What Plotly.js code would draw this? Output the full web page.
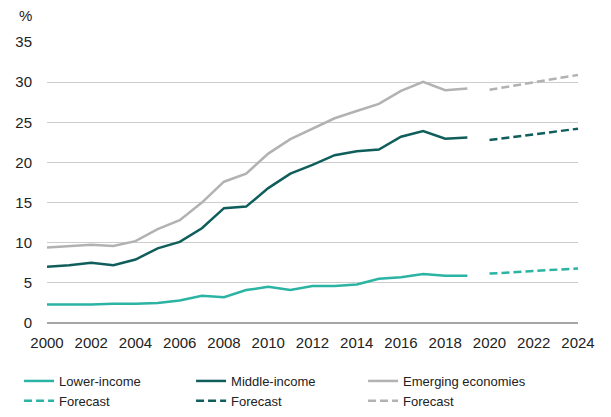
<!DOCTYPE html>
<html>
<head>
<meta charset="utf-8">
<script src="https://cdn.plot.ly/plotly-3.0.1.min.js"></script>
<style>html,body{margin:0;padding:0;background:#fff;}#chart{width:611px;height:417px;}</style>
</head>
<body>
<div id="chart"></div>
<script>
const years = [2000,2001,2002,2003,2004,2005,2006,2007,2008,2009,2010,2011,2012,2013,2014,2015,2016,2017,2018,2019];
const forecastYears = [2020,2021,2022,2023,2024];

const lowerIncome = [2.3,2.3,2.3,2.4,2.4,2.5,2.8,3.4,3.2,4.1,4.5,4.1,4.6,4.6,4.8,5.5,5.7,6.1,5.9,5.9];
const middleIncome = [7.0,7.2,7.5,7.2,7.9,9.3,10.1,11.8,14.3,14.5,16.8,18.6,19.7,20.9,21.4,21.6,23.2,23.9,22.95,23.1];
const emerging = [9.4,9.6,9.75,9.6,10.2,11.7,12.8,15.0,17.6,18.6,21.1,22.9,24.2,25.5,26.4,27.3,28.9,30.05,29.0,29.2];

const lowerForecast = [6.15,6.3,6.45,6.6,6.8];
const middleForecast = [22.8,23.15,23.55,23.9,24.2];
const emergingForecast = [29.05,29.5,30.0,30.45,30.9];

const xTicks = [2000,2002,2004,2006,2008,2010,2012,2014,2016,2018,2020,2022,2024];
const yTicks = [0,5,10,15,20,25,30,35];

const cLow = '#2bb3a3', cMid = '#0f5e5b', cEm = '#b2b2b2';
const lw = 2.5;
const dash = '8px,4px';

const traces = [
  {x: years, y: lowerIncome, name: 'Lower-income', mode: 'lines', line: {color: cLow, width: lw}},
  {x: years, y: middleIncome, name: 'Middle-income', mode: 'lines', line: {color: cMid, width: lw}},
  {x: years, y: emerging, name: 'Emerging economies', mode: 'lines', line: {color: cEm, width: lw}},
  {x: forecastYears, y: lowerForecast, name: 'Forecast', mode: 'lines', line: {color: cLow, width: lw, dash: dash}},
  {x: forecastYears, y: middleForecast, name: 'Forecast', mode: 'lines', line: {color: cMid, width: lw, dash: dash}},
  {x: forecastYears, y: emergingForecast, name: 'Forecast', mode: 'lines', line: {color: cEm, width: lw, dash: dash}}
];

const layout = {
  width: 611, height: 417,
  margin: {l: 47, r: 33, t: 42, b: 94, autoexpand: false},
  paper_bgcolor: '#fff', plot_bgcolor: '#fff',
  font: {family: 'Liberation Sans, Arial, sans-serif', size: 15, color: '#222'},
  showlegend: true,
  legend: {
    orientation: 'h', x: -0.0526, xanchor: 'left', y: -0.153, yanchor: 'top',
    entrywidth: 127, entrywidthmode: 'pixels', traceorder: 'normal',
    font: {size: 13, color: '#222'}, tracegroupgap: 0
  },
  xaxis: {
    range: [2000, 2024], tickvals: xTicks, ticktext: xTicks.map(String),
    showgrid: false, zeroline: false, showline: false, ticks: '',
    ticklabelstandoff: 9, tickfont: {size: 15}
  },
  yaxis: {
    range: [0, 35], tickvals: yTicks, ticktext: yTicks.map(String),
    showgrid: true, gridcolor: '#cccccc', gridwidth: 1,
    zeroline: true, zerolinecolor: '#a6a6a6', zerolinewidth: 1.5,
    showline: false, ticks: '', ticklabelstandoff: 14, tickfont: {size: 15}
  },
  annotations: [
    {text: '%', xref: 'paper', yref: 'paper', x: -0.041, y: 1.0, yshift: 27, xanchor: 'center', yanchor: 'middle', showarrow: false, font: {size: 15, color: '#222'}}
  ]
};

Plotly.newPlot('chart', traces, layout, {displayModeBar: false, staticPlot: true});
</script>
</body>
</html>
